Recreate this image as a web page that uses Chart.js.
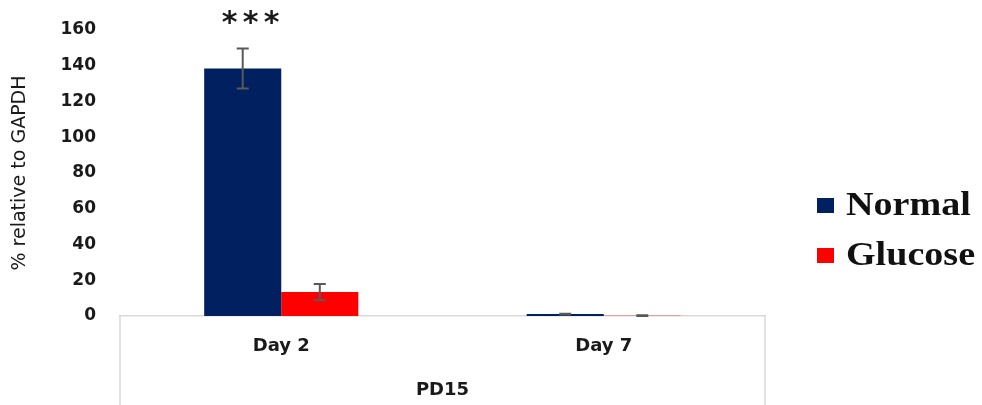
<!DOCTYPE html>
<html>
<head>
<meta charset="utf-8">
<script src="https://cdn.jsdelivr.net/npm/chart.js@4/dist/chart.umd.min.js"></script>
<style>
  html, body { margin: 0; padding: 0; background: #fff; }
  #wrap { width: 982px; height: 405px; }
</style>
</head>
<body>
<div id="wrap"><canvas id="barChart"></canvas></div>
<script>
// Data
const days = ['Day 2', 'Day 7'];
const groupLabel = 'PD15';
const normalValues = [138.5, 1.1];
const normalErrors = [11.2, 0.2];
const glucoseValues = [13.4, 0.2];
const glucoseErrors = [4.5, 0.2];
const yTicks = [0, 20, 40, 60, 80, 100, 120, 140, 160];
const significance = ['***', ''];   // marks above the Normal bars

const axisGray = '#d9d9d9';
const errGray = '#595959';
const textColor = '#1a1a1a';

// Error bars drawn from the dataset's own bar elements and the y scale
const errorBars = {
    id: 'errorBars',
    afterDatasetsDraw(chart) {
        const ctx = chart.ctx;
        const y = chart.scales.y;
        chart.data.datasets.forEach((ds, di) => {
            const meta = chart.getDatasetMeta(di);
            meta.data.forEach((bar, i) => {
                const v = ds.data[i];
                const e = ds.errors[i];
                const top = y.getPixelForValue(v + e);
                const bot = y.getPixelForValue(v - e);
                ctx.save();
                ctx.strokeStyle = errGray;
                ctx.lineWidth = 2;
                ctx.beginPath();
                ctx.moveTo(bar.x, top); ctx.lineTo(bar.x, bot);
                ctx.moveTo(bar.x - 6, top); ctx.lineTo(bar.x + 6, top);
                ctx.moveTo(bar.x - 6, bot); ctx.lineTo(bar.x + 6, bot);
                ctx.stroke();
                ctx.restore();
            });
        });
    }
};

// Asterisks, the category box and the legend on the right
const extras = {
    id: 'extras',
    afterDraw(chart) {
        const ctx = chart.ctx;
        const area = chart.chartArea;
        const y = chart.scales.y;
        const meta = chart.getDatasetMeta(0);

        ctx.save();
        ctx.fillStyle = textColor;
        ctx.font = 'bold 30px "DejaVu Sans"';
        ctx.textAlign = 'center';
        ctx.textBaseline = 'middle';
        significance.forEach((s, i) => {
            if (!s) return;
            const bx = meta.data[i].x + 8;
            const by = y.getPixelForValue(166) + 5;
            for (let k = 0; k < s.length; k++) {
                ctx.fillText(s[k], bx + (k - 1) * 21, by);
            }
        });

        // vertical lines of the category box
        ctx.strokeStyle = axisGray;
        ctx.lineWidth = 1.5;
        ctx.beginPath();
        ctx.moveTo(area.left, area.bottom); ctx.lineTo(area.left, chart.height);
        ctx.moveTo(area.right, area.bottom); ctx.lineTo(area.right, chart.height);
        ctx.stroke();

        // legend
        ctx.textAlign = 'left';
        ctx.font = 'bold 34px "Liberation Serif"';
        chart.data.datasets.forEach((ds, di) => {
            const cy = 205 + di * 50;
            ctx.fillStyle = ds.backgroundColor;
            ctx.fillRect(817, cy - 7, 17, 15);
            ctx.fillStyle = '#111';
            ctx.save();
            ctx.translate(846, cy + 1);
            ctx.scale(1.12, 1);
            ctx.fillText(ds.label, 0, 0);
            ctx.restore();
        });
        ctx.restore();
    }
};

const ctxBar = document.getElementById('barChart').getContext('2d');
new Chart(ctxBar, {
    type: 'bar',
    data: {
        labels: days,
        datasets: [{
            label: 'Normal',
            data: normalValues,
            errors: normalErrors,
            backgroundColor: '#002060',
            categoryPercentage: 0.478,
            barPercentage: 1
        }, {
            label: 'Glucose',
            data: glucoseValues,
            errors: glucoseErrors,
            backgroundColor: '#ff0000',
            categoryPercentage: 0.478,
            barPercentage: 1
        }]
    },
    options: {
        responsive: true,
        maintainAspectRatio: false,
        animation: false,
        layout: { padding: { top: 30, right: 217, bottom: 0, left: 0 } },
        plugins: {
            legend: { display: false },
            tooltip: { enabled: false }
        },
        scales: {
            x: {
                grid: { display: false, drawTicks: false },
                border: { display: true, color: axisGray, width: 1.5 },
                ticks: {
                    color: textColor,
                    padding: 20,
                    font: { family: 'DejaVu Sans', size: 18, weight: 'bold' }
                },
                title: {
                    display: true,
                    text: groupLabel,
                    color: textColor,
                    padding: { top: 20, bottom: 4 },
                    font: { family: 'DejaVu Sans', size: 18, weight: 'bold' }
                },
                afterFit(scale) { scale.height = 89; }
            },
            y: {
                min: 0,
                max: 160,
                grid: { display: false, drawTicks: false },
                border: { display: false },
                afterBuildTicks(scale) {
                    scale.ticks = yTicks.map(v => ({ value: v }));
                },
                ticks: {
                    color: textColor,
                    padding: 24,
                    font: { family: 'DejaVu Sans', size: 17, weight: 'bold' }
                },
                title: {
                    display: true,
                    text: '% relative to GAPDH',
                    color: textColor,
                    padding: { top: 9, bottom: 0 },
                    font: { family: 'DejaVu Sans', size: 19 }
                },
                afterFit(scale) {
                    scale.width = 120;
                    scale.paddingTop = 0;
                    scale.paddingBottom = 0;
                }
            }
        }
    },
    plugins: [errorBars, extras]
});
</script>
</body>
</html>
